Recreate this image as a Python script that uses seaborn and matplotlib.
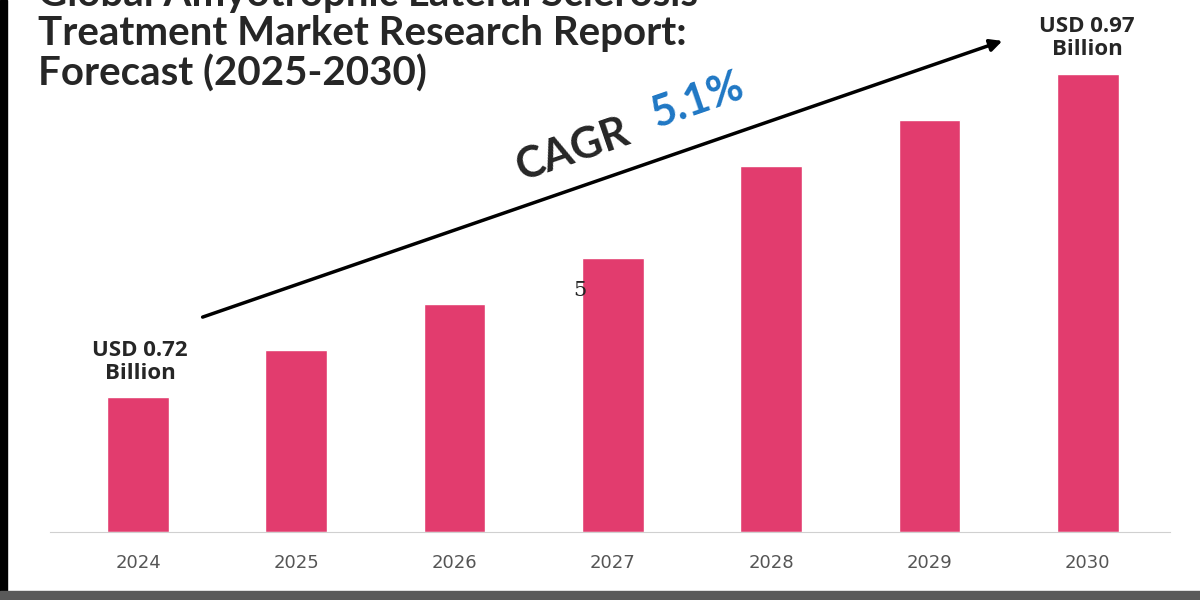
import matplotlib.pyplot as plt
import seaborn as sns
import pandas as pd
from matplotlib.patches import Rectangle

years = ["2024", "2025", "2026", "2027", "2028", "2029", "2030"]
# bar heights as drawn (stylised, relative units)
heights = [135, 182, 228, 274, 366, 412, 458]
start_label = "USD 0.72\nBillion"
end_label = "USD 0.97\nBillion"
cagr = "5.1%"

df = pd.DataFrame({"year": years, "value": heights})

sns.set_style("white")
fig = plt.figure(figsize=(12, 6), dpi=100)
ax = fig.add_axes([50 / 1200, 68 / 600, 1120 / 1200, 532 / 600])
sns.barplot(data=df, x="year", y="value", color="#e23c6e", saturation=1,
            width=0.39, ax=ax)
ax.set_xlim(-0.556, 6.52)
ax.set_ylim(0, 532)
ax.set_xlabel("")
ax.set_ylabel("")
ax.set_yticks([])
for s in ["top", "right", "left"]:
    ax.spines[s].set_visible(False)
ax.spines["bottom"].set_color("#d0d0d0")
ax.tick_params(axis="x", length=0, pad=16, labelsize=13, labelcolor="#555555")
ax.patch.set_alpha(0)

def fx(x):
    return x / 1200

def fy(y):
    return 1 - y / 600

title = "Global Amyotrophic Lateral Sclerosis\nTreatment Market Research Report:\nForecast (2025-2030)"
fig.text(fx(38), fy(-24), title, ha="left", va="top", fontsize=29,
         fontweight="bold", family="Lato", linespacing=1.08)

fig.text(fx(140), fy(362), start_label, ha="center", va="center",
         fontsize=16, fontweight="bold", family="Open Sans", linespacing=1.1)
fig.text(fx(1087), fy(38), end_label, ha="center", va="center",
         fontsize=16, fontweight="bold", family="Open Sans", linespacing=1.1)

ax.annotate("", xy=(fx(1005), fy(40)), xytext=(fx(200), fy(318)),
            xycoords="figure fraction", textcoords="figure fraction",
            arrowprops=dict(arrowstyle="-|>", color="black", lw=2.5,
                            mutation_scale=18))

fig.text(fx(573), fy(150), "CAGR", ha="center", va="center", fontsize=31,
         fontweight="bold", family="Lato", rotation=19)
fig.text(fx(697), fy(100), cagr, ha="center", va="center", fontsize=31,
         fontweight="bold", family="Lato", rotation=19, color="#1f77c4")

fig.text(fx(580), fy(290), "5", ha="center", va="center", fontsize=15,
         family="DejaVu Serif")

# frame: left black border, bottom grey strip
fig.patches.append(Rectangle((0, 0), fx(7), 1, transform=fig.transFigure,
                             color="black", zorder=5))
fig.patches.append(Rectangle((0, 0), 1, 9 / 600, transform=fig.transFigure,
                             color="#5a5a5a", zorder=5))

fig.savefig("out.png", dpi=100)
